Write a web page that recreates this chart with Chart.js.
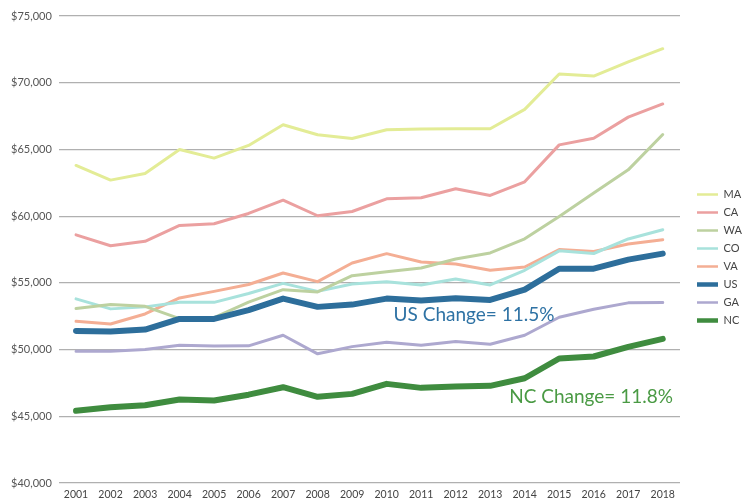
<!DOCTYPE html>
<html>
<head>
<meta charset="utf-8">
<script src="https://cdn.jsdelivr.net/npm/chart.js@4.4.1/dist/chart.umd.min.js"></script>
<style>
  html, body { margin: 0; padding: 0; background: #fff; }
  #wrap { width: 743px; height: 499px; }
</style>
</head>
<body>
<div id="wrap"><canvas id="chart"></canvas></div>
<script>
// years on the x axis
var years = ['2001','2002','2003','2004','2005','2006','2007','2008','2009',
             '2010','2011','2012','2013','2014','2015','2016','2017','2018'];

// median household income
var maData = [63800,62700,63200,65000,64350,65300,66850,66100,65820,66470,66540,66550,66550,68000,70650,70500,71560,72550];
var caData = [58600,57780,58110,59300,59430,60200,61200,60030,60350,61300,61380,62050,61550,62575,65340,65840,67420,68410];
var waData = [53070,53370,53240,52320,52400,53550,54490,54320,55540,55840,56110,56790,57240,58300,59980,61730,63470,66120];
var coData = [53800,53050,53200,53540,53540,54200,54960,54360,54910,55090,54840,55290,54840,55940,57400,57200,58290,58980];
var vaData = [52120,51920,52670,53870,54360,54880,55740,55090,56490,57190,56560,56410,55940,56190,57500,57350,57910,58230];
var usData = [51400,51350,51500,52300,52300,52950,53820,53200,53370,53820,53670,53840,53720,54490,56060,56060,56740,57190];
var gaData = [49870,49870,50000,50320,50270,50280,51070,49680,50220,50550,50320,50600,50400,51070,52420,53020,53500,53520];
var ncData = [45410,45680,45830,46260,46180,46620,47180,46460,46680,47430,47130,47230,47280,47850,49330,49480,50200,50800];

var yTicks = [40000,45000,50000,55000,60000,65000,70000,75000];

var fontFam = 'Lato, "Open Sans", sans-serif';

function line(label, data, color, width, order) {
    return {
        label: label,
        data: data,
        borderColor: color,
        backgroundColor: color,
        borderWidth: width,
        pointRadius: 0,
        tension: 0,
        fill: false,
        order: order,
        borderCapStyle: 'round',
        borderJoinStyle: 'round'
    };
}

var datasets = [
    line('MA', maData, '#e3ec96', 3, 2),
    line('CA', caData, '#eba0a0', 3, 2),
    line('WA', waData, '#bdd1a0', 3, 2),
    line('CO', coData, '#a8e2dc', 3, 2),
    line('VA', vaData, '#f4ae94', 3, 2),
    line('US', usData, '#2d6e9b', 6, 0),
    line('GA', gaData, '#ada8cf', 3, 2),
    line('NC', ncData, '#3f8c3f', 6, 0)
];

// text notes drawn next to the US and NC lines
var notes = [
    {text: 'US Change= 11.5%', color: '#2e72a4', x: 9.2, y: 52620},
    {text: 'NC Change= 11.8%', color: '#4a9a44', x: 12.55, y: 46480}
];

var notePlugin = {
    id: 'notes',
    afterDatasetsDraw: function(chart) {
        var ctx = chart.ctx;
        var xs = chart.scales.x, ys = chart.scales.y;
        ctx.save();
        ctx.font = '19px ' + fontFam;
        ctx.textAlign = 'left';
        ctx.textBaseline = 'middle';
        notes.forEach(function(n) {
            ctx.fillStyle = n.color;
            ctx.fillText(n.text, xs.getPixelForValue(n.x), ys.getPixelForValue(n.y));
        });
        ctx.restore();
    }
};

new Chart(document.getElementById('chart'), {
    type: 'line',
    data: { labels: years, datasets: datasets },
    plugins: [notePlugin],
    options: {
        responsive: true,
        maintainAspectRatio: false,
        animation: false,
        layout: { padding: { top: 16, right: 0, bottom: 0, left: 4 } },
        plugins: {
            tooltip: { enabled: false },
            legend: {
                position: 'right',
                maxWidth: 53,
                labels: {
                    boxWidth: 21,
                    boxHeight: 0,
                    padding: 7,
                    color: '#444',
                    font: { family: fontFam, size: 11 },
                    generateLabels: function(chart) {
                        return chart.data.datasets.map(function(ds, i) {
                            return {
                                text: ds.label,
                                fillStyle: ds.borderColor,
                                strokeStyle: ds.borderColor,
                                lineWidth: ds.borderWidth > 4 ? 4.5 : 2.5,
                                lineCap: 'round',
                                hidden: false,
                                datasetIndex: i,
                                fontColor: '#444'
                            };
                        });
                    }
                }
            }
        },
        scales: {
            x: {
                offset: true,
                grid: { display: false, drawTicks: false },
                border: { display: false },
                ticks: {
                    color: '#444',
                    font: { family: fontFam, size: 10.5 },
                    maxRotation: 0,
                    autoSkip: false,
                    padding: 5
                },
                afterFit: function(scale) { scale.height = 16; }
            },
            y: {
                min: 40000,
                max: 75000,
                afterBuildTicks: function(scale) {
                    scale.ticks = yTicks.map(function(v) { return {value: v}; });
                },
                grid: { color: '#b0b0b0', lineWidth: 1.2, drawTicks: false },
                border: { display: false },
                ticks: {
                    color: '#555',
                    font: { family: fontFam, size: 11 },
                    padding: 7,
                    callback: function(v) { return '$' + v.toLocaleString('en-US'); }
                }
            },
            gap: {
                position: 'right',
                display: true,
                grid: { display: false, drawTicks: false },
                border: { display: false },
                ticks: { display: false },
                afterFit: function(scale) { scale.width = 10; }
            }
        }
    }
});
</script>
</body>
</html>
